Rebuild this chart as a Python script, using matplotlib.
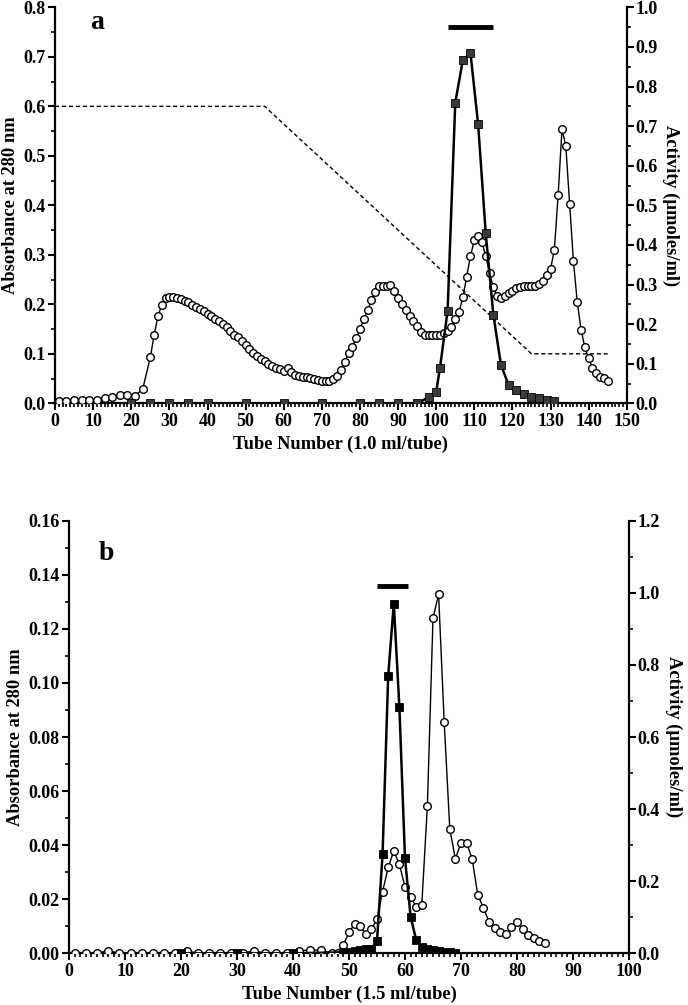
import matplotlib.pyplot as plt
from matplotlib.ticker import MultipleLocator

plt.rcParams['font.family'] = ['Liberation Serif', 'DejaVu Serif']
plt.rcParams['font.weight'] = 'bold'

# ---- panel a data ----
a_tube_abs = list(range(1, 25, 2)) + list(range(25, 146))
a_abs = [0.005, 0.005, 0.006, 0.006, 0.006, 0.006, 0.011, 0.013, 0.016, 0.016, 0.015, 0.029,
         # 25..
         0.093, 0.138, 0.176, 0.199, 0.212, 0.215, 0.215, 0.213, 0.210, 0.207,
         0.205, 0.199, 0.194, 0.190, 0.186, 0.180, 0.176, 0.171, 0.166, 0.161,
         0.154, 0.146, 0.139, 0.133, 0.126, 0.117, 0.109, 0.101, 0.096, 0.089,
         0.085, 0.079, 0.075, 0.072, 0.069, 0.066, 0.071, 0.063, 0.058, 0.056,
         0.054, 0.053, 0.051, 0.050, 0.048, 0.046, 0.046, 0.045, 0.050, 0.056,
         # 75..
         0.068, 0.084, 0.101, 0.114, 0.131, 0.150, 0.170, 0.188, 0.208, 0.225,
         0.236, 0.237, 0.236, 0.239, 0.227, 0.213, 0.201, 0.188, 0.177, 0.166,
         0.156, 0.145, 0.139, 0.138, 0.138, 0.138, 0.138, 0.142, 0.147, 0.155,
         # 105..
         0.170, 0.185, 0.214, 0.256, 0.298, 0.329, 0.339, 0.325, 0.298, 0.263,
         0.234, 0.217, 0.213, 0.217, 0.222, 0.227, 0.232, 0.235, 0.237, 0.237,
         0.237, 0.236, 0.241, 0.248, 0.259, 0.271, 0.310, 0.421, 0.554, 0.520,
         # 135..
         0.403, 0.288, 0.205, 0.149, 0.113, 0.091, 0.071, 0.061, 0.054, 0.051, 0.046]

a_tube_act = [20, 25, 30, 35, 40, 50, 60, 70, 80, 85, 90, 95, 98, 100, 101, 103, 105, 107,
              109, 111, 113, 115, 117, 119, 121, 123, 125, 127, 129, 131]
a_act = [0, 0, 0, 0, 0, 0, 0, 0, 0, 0, 0, 0, 0.015, 0.029, 0.090, 0.234, 0.759, 0.867,
         0.884, 0.705, 0.429, 0.223, 0.097, 0.046, 0.034, 0.024, 0.017, 0.013, 0.008, 0.006]

a_grad_x = [0, 55, 125, 145]
a_grad_y = [0.6, 0.6, 0.1, 0.1]
a_pool = [103, 115]

# ---- panel b data ----
b_tube_abs = list(range(1, 49, 2)) + [48] + list(range(49, 86))
b_abs = [0, 0, 0, 0.001, 0, 0, 0, 0, 0, 0, 0.001, 0, 0, 0, 0, 0, 0.001, 0, 0, 0, 0.001, 0.0012,
         0.0012, 0, 0,
         # 49..
         0.0031, 0.0078, 0.0108, 0.0101, 0.0070, 0.0089, 0.0126, 0.0228, 0.0318, 0.0378,
         0.0329, 0.0246, 0.0209, 0.0172, 0.0179, 0.0546, 0.1239, 0.1328, 0.0857, 0.0460,
         # 69..
         0.0349, 0.0409, 0.0409, 0.0349, 0.0216, 0.0169, 0.0117, 0.0095, 0.0080, 0.0070,
         0.0098, 0.0117, 0.0090, 0.0068, 0.0055, 0.0046, 0.0037]

b_tube_act = [20, 30, 40, 49, 50, 51, 52, 53, 54, 55, 56, 57, 58, 59, 60, 61, 62, 63, 64,
              65, 66, 67, 68, 69]
b_act = [0, 0, 0, 0.003, 0.005, 0.007, 0.009, 0.011, 0.013, 0.034, 0.276, 0.769, 0.970,
         0.683, 0.264, 0.102, 0.037, 0.018, 0.012, 0.008, 0.006, 0.004, 0.003, 0.002]
b_pool = [55, 60.5]

fig = plt.figure(figsize=(6.88, 10.05), dpi=100)
ax1 = fig.add_axes([0.080, 0.5987, 0.831, 0.394])
ax2 = fig.add_axes([0.1003, 0.0514, 0.8139, 0.4305])

tick_font = 13
label_font = 13.3


def style(ax, twin):
    ax.spines['top'].set_visible(False)
    ax.spines['right'].set_visible(False)
    twin.spines['top'].set_visible(False)
    twin.spines['left'].set_visible(False)
    twin.spines['bottom'].set_visible(False)
    for sp in ['left', 'bottom']:
        ax.spines[sp].set_linewidth(1.6)
    twin.spines['right'].set_linewidth(1.6)
    ax.tick_params(which='major', direction='out', length=5, width=1.5, labelsize=tick_font, pad=2)
    ax.tick_params(which='minor', direction='out', length=3, width=1.2)
    twin.tick_params(which='major', direction='out', length=5, width=1.5, labelsize=tick_font, pad=1)
    twin.tick_params(which='minor', direction='out', length=3, width=1.2)
    ax.xaxis.set_minor_locator(MultipleLocator(1))


# ---- panel a ----
tw1 = ax1.twinx()
ax1.plot(a_grad_x, a_grad_y, color='black', ls=(0, (3, 2)), lw=1.0)
ax1.plot(a_tube_abs, a_abs, color='black', lw=1.0, marker='o', ms=5.5,
         mfc='white', mec='black', mew=1.0, zorder=3)
tw1.plot(a_tube_act, a_act, color='black', lw=1.8, marker='s', ms=5.5,
         mfc='#3a3a3a', mec='black', mew=0.6, zorder=4)
tw1.plot(a_pool, [0.951, 0.951], color='black', lw=3.5, solid_capstyle='butt')
ax1.set_xlim(0, 150)
ax1.set_ylim(0, 0.8)
tw1.set_ylim(0, 1.0)
ax1.xaxis.set_major_locator(MultipleLocator(10))
ax1.yaxis.set_major_locator(MultipleLocator(0.1))
ax1.yaxis.set_minor_locator(MultipleLocator(0.05))
tw1.yaxis.set_major_locator(MultipleLocator(0.1))
tw1.yaxis.set_minor_locator(MultipleLocator(0.05))
ax1.yaxis.set_major_formatter(lambda v, p: f'{v:.1f}')
tw1.yaxis.set_major_formatter(lambda v, p: f'{v:.1f}')
style(ax1, tw1)
ax1.set_xlabel('Tube Number (1.0 ml/tube)', fontsize=label_font, fontweight='bold', labelpad=4)
ax1.set_ylabel('Absorbance at 280 nm', fontsize=label_font, fontweight='bold', labelpad=3)
tw1.set_ylabel('Activity (µmoles/ml)', fontsize=label_font, fontweight='bold', rotation=270, labelpad=16)
ax1.text(11, 0.77, 'a', fontsize=20, fontweight='bold', ha='center', va='center')

# ---- panel b ----
tw2 = ax2.twinx()
ax2.plot(b_tube_abs, b_abs, color='black', lw=1.0, marker='o', ms=5.5,
         mfc='white', mec='black', mew=1.0, zorder=3)
tw2.plot(b_tube_act, b_act, color='black', lw=1.8, marker='s', ms=5.5,
         mfc='black', mec='black', mew=0.6, zorder=4)
tw2.plot(b_pool, [1.02, 1.02], color='black', lw=3.5, solid_capstyle='butt')
ax2.set_xlim(0, 100)
ax2.set_ylim(0, 0.16)
tw2.set_ylim(0, 1.2)
ax2.xaxis.set_major_locator(MultipleLocator(10))
ax2.yaxis.set_major_locator(MultipleLocator(0.02))
ax2.yaxis.set_minor_locator(MultipleLocator(0.01))
tw2.yaxis.set_major_locator(MultipleLocator(0.2))
tw2.yaxis.set_minor_locator(MultipleLocator(0.1))
ax2.yaxis.set_major_formatter(lambda v, p: f'{v:.2f}')
tw2.yaxis.set_major_formatter(lambda v, p: f'{v:.1f}')
style(ax2, tw2)
ax2.set_xlabel('Tube Number (1.5 ml/tube)', fontsize=label_font, fontweight='bold', labelpad=4)
ax2.set_ylabel('Absorbance at 280 nm', fontsize=label_font, fontweight='bold', labelpad=3)
tw2.set_ylabel('Activity (µmoles/ml)', fontsize=label_font, fontweight='bold', rotation=270, labelpad=16)
ax2.text(6.7, 0.148, 'b', fontsize=20, fontweight='bold', ha='center', va='center')

for ax in (ax1, ax2, tw1, tw2):
    for lab in ax.get_xticklabels() + ax.get_yticklabels():
        lab.set_fontweight('bold')

fig.savefig('out.png', dpi=100)
